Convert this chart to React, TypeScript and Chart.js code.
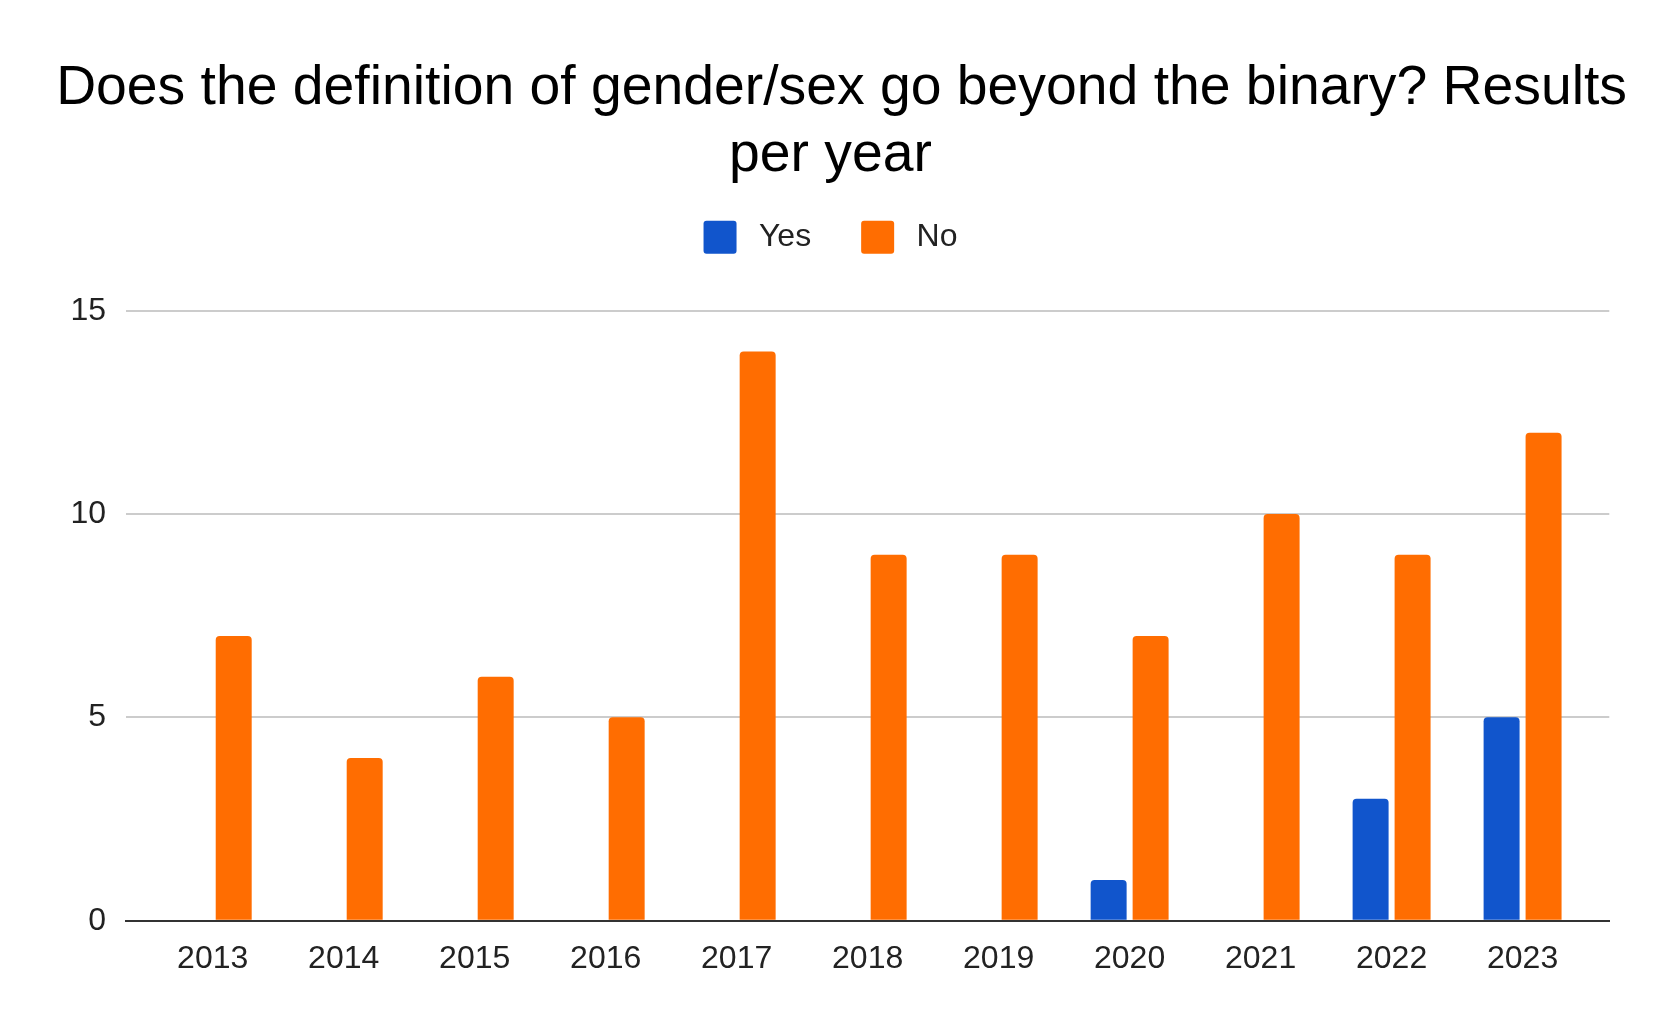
import React, { useEffect, useRef } from "react";
import { Chart, registerables } from "chart.js";

Chart.register(...registerables);

const TITLE_LINES = ["\u2009\u2009Does the definition of gender/sex go beyond the binary? Results", "per year"];
const YEARS = ["2013", "2014", "2015", "2016", "2017", "2018", "2019", "2020", "2021", "2022", "2023"];
const SERIES_NAMES = ["Yes", "No"];
const YES_VALUES = [0, 0, 0, 0, 0, 0, 0, 1, 0, 3, 5];
const NO_VALUES = [7, 4, 6, 5, 14, 9, 9, 7, 10, 9, 12];
const Y_TICKS = [0, 5, 10, 15];

const FONT = "'Liberation Sans', Arial, sans-serif";

export default function App() {
  const ref = useRef<HTMLCanvasElement | null>(null);

  useEffect(() => {
    if (!ref.current) return;
    const first = Number(YEARS[0]);
    const last = Number(YEARS[YEARS.length - 1]);
    const chart = new Chart(ref.current, {
      type: "bar",
      data: {
        labels: YEARS,
        datasets: [
          {
            label: SERIES_NAMES[0],
            data: YES_VALUES,
            backgroundColor: "#1155cc",
            borderRadius: 4,
            xAxisID: "x",
            yAxisID: "y",
          },
          {
            label: SERIES_NAMES[1],
            data: NO_VALUES,
            backgroundColor: "#ff6d01",
            borderRadius: 4,
            xAxisID: "x",
            yAxisID: "y",
          },
        ],
      },
      options: {
        animation: false,
        responsive: true,
        maintainAspectRatio: false,
        devicePixelRatio: 1,
        layout: { padding: 0 },
        datasets: {
          bar: { categoryPercentage: 0.641, barPercentage: 0.857 },
        },
        plugins: {
          tooltip: { enabled: false },
          title: {
            display: true,
            text: TITLE_LINES,
            color: "#000000",
            font: { family: FONT, size: 55.3, weight: "normal", lineHeight: 1.2 },
            padding: { top: 56, bottom: -18 },
          },
          legend: {
            display: true,
            position: "top",
            labels: {
              boxWidth: 33,
              boxHeight: 33,
              padding: 50,
              color: "#222222",
              font: { family: FONT, size: 32 },
              generateLabels: (c: any) => {
                const items = Chart.defaults.plugins.legend.labels.generateLabels(c);
                return items.map((it: any) => ({ ...it, text: "\u2009" + it.text, lineWidth: 0, borderRadius: 3 }));
              },
            },
          },
        },
        scales: {
          x: {
            type: "linear",
            position: "bottom",
            offset: false,
            min: first - 0.662,
            max: last + 0.662,
            z: 1,
            grid: { display: false, drawTicks: false, offset: false },
            border: { display: true, color: "#333333", width: 2 },
            ticks: {
              stepSize: 1,
              includeBounds: false,
              autoSkip: false,
              maxRotation: 0,
              padding: 19,
              color: "#222222",
              font: { family: FONT, size: 32 },
              callback: (v: any) => String(v),
            },
            afterFit: (s: any) => {
              s.height = 106.3;
            },
          },
          xTop: {
            type: "linear",
            position: "top",
            display: true,
            grid: { display: false, drawTicks: false },
            border: { display: false },
            ticks: { display: false },
            afterFit: (s: any) => {
              s.height = 47;
            },
          },
          y: {
            type: "linear",
            position: "left",
            min: 0,
            max: 15,
            afterBuildTicks: (s: any) => {
              s.ticks = Y_TICKS.map((v) => ({ value: v }));
            },
            grid: {
              drawTicks: false,
              color: (c: any) => (c.tick && c.tick.value === 0 ? "#333333" : "#cccccc"),
              lineWidth: 2,
            },
            border: { display: false },
            ticks: {
              padding: 20,
              color: "#222222",
              font: { family: FONT, size: 32 },
            },
            afterFit: (s: any) => {
              s.width = 126;
            },
          },
          yRight: {
            type: "linear",
            position: "right",
            display: true,
            grid: { display: false, drawTicks: false },
            border: { display: false },
            ticks: { display: false },
            afterFit: (s: any) => {
              s.width = 51.7;
            },
          },
        },
      },
    });
    return () => chart.destroy();
  }, []);

  return (
    <div style={{ position: "fixed", left: 0, top: 0, width: 1661, height: 1027, background: "#ffffff" }}>
      <canvas ref={ref} />
    </div>
  );
}
